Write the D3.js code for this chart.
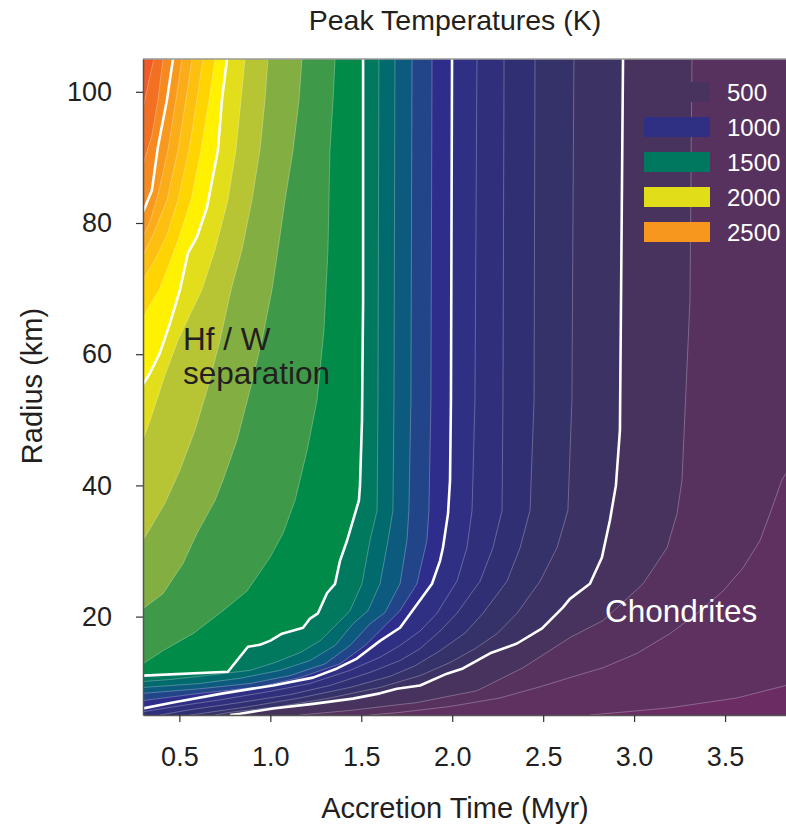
<!DOCTYPE html>
<html>
<head>
<meta charset="utf-8">
<script src="https://cdn.jsdelivr.net/npm/d3@7"></script>
<style>
  body { margin: 0; background: #fff; }
  text { font-family: "Liberation Sans", Arial, Helvetica, sans-serif; }
</style>
</head>
<body>
<script>
// Peak temperature contours as [accretion time (Myr), radius (km)]
// each line runs from the top of the plot downwards
var c200 = [[3.9,105],[3.9,10.5],[3.835,9.5],[3.566,7.6],[3.197,6.1],[2.922,5.4],[2.757,5.0]];
var c300 = [[3.9,105],[3.86,43],[3.812,40.8],[3.747,35.7],[3.692,31.6],[3.598,27.4],[3.489,23.9],[3.346,20.5],[3.197,17.4],[3.016,14.4],[2.829,12.2],[2.647,10.7],[2.483,9.3],[2.263,7.6],[1.988,6.3],[1.713,5.4],[1.548,5.0]];
var c400 = [[3.318,105],[3.307,68.2],[3.263,40.8],[3.236,35.7],[3.181,30.5],[3.049,25.0],[2.829,19.4],[2.647,16.8],[2.389,12.2],[2.136,8.7],[1.806,6.9],[1.438,5.7],[1.163,5.0]];
var c500 = [[2.939,105],[2.922,48.4],[2.9,40.0],[2.867,34.7],[2.823,29.0],[2.757,25.0],[2.647,22.7],[2.609,21.4],[2.494,18.2],[2.356,15.9],[2.208,14.4],[2.059,12.1],[1.971,11.3],[1.823,9.5],[1.696,9.0],[1.603,8.3],[1.454,7.5],[1.235,6.7],[1.015,6.0],[0.833,5.2],[0.778,5.0]];
var c600 = [[2.669,105],[2.658,53.0],[2.636,36.2],[2.576,30.5],[2.483,25.4],[2.356,20.5],[2.246,17.4],[2.125,15.1],[1.988,13.0],[1.823,11.0],[1.603,9.2],[1.328,7.6],[1.053,6.3],[0.778,5.4],[0.696,5.0]];
var c700 = [[2.455,105],[2.45,53.0],[2.428,36.2],[2.373,30.5],[2.301,25.4],[2.169,20.5],[2.07,17.5],[1.933,14.8],[1.795,12.5],[1.658,10.9],[1.438,9.2],[1.163,7.6],[0.888,6.3],[0.613,5.2],[0.558,5.0]];
var c800 = [[2.285,105],[2.279,53.0],[2.274,36.2],[2.224,30.5],[2.153,25.4],[2.026,20.5],[1.933,17.8],[1.823,15.1],[1.713,13.3],[1.548,11.5],[1.328,9.5],[1.108,8.1],[0.833,6.9],[0.558,5.8],[0.393,5.0]];
var c900 = [[2.136,105],[2.125,53.0],[2.109,36.2],[2.081,30.5],[2.026,25.4],[1.916,20.5],[1.823,17.8],[1.713,15.6],[1.603,13.8],[1.438,11.8],[1.218,9.8],[0.998,8.6],[0.723,7.3],[0.503,6.4],[0.3,5.5]];
var c1000 = [[1.999,105],[1.993,53.0],[1.988,40.8],[1.977,35.7],[1.949,30.5],[1.933,28.5],[1.889,25.0],[1.713,18.3],[1.603,16.3],[1.476,13.6],[1.367,12.1],[1.235,10.7],[1.015,9.5],[0.74,8.3],[0.465,6.9],[0.3,6.0]];
var c1100 = [[1.889,105],[1.883,53.0],[1.872,36.2],[1.861,31.6],[1.806,25.0],[1.713,20.9],[1.641,18.9],[1.521,15.6],[1.383,12.8],[1.163,10.7],[0.943,9.3],[0.613,8.3],[0.3,7.2]];
var c1200 = [[1.779,105],[1.773,53.0],[1.762,36.2],[1.751,31.6],[1.713,25.0],[1.63,20.6],[1.548,18.9],[1.438,15.6],[1.301,12.8],[1.108,11.0],[0.888,9.8],[0.613,9.0],[0.3,8.3]];
var c1300 = [[1.685,105],[1.68,53.0],[1.674,36.2],[1.647,31.6],[1.603,25.0],[1.537,20.9],[1.454,18.9],[1.356,15.6],[1.218,13.3],[1.053,11.8],[0.833,10.6],[0.613,9.8],[0.3,9.2]];
var c1400 = [[1.597,105],[1.592,53.0],[1.587,36.2],[1.548,31.6],[1.504,25.0],[1.438,20.9],[1.367,18.9],[1.273,16.3],[1.163,14.5],[1.026,13.0],[0.888,11.8],[0.613,10.9],[0.448,10.4],[0.3,10.1]];
var c1500 = [[1.51,105],[1.51,68.2],[1.504,49.9],[1.493,40.0],[1.487,37.7],[1.422,31.6],[1.383,28.5],[1.356,25.0],[1.312,23.6],[1.262,20.5],[1.218,19.7],[1.18,18.3],[1.064,17.4],[0.998,16.3],[0.943,15.7],[0.877,15.4],[0.767,11.6],[0.3,11.0]];
var c1600 = [[1.356,105],[1.345,98.8],[1.328,91.1],[1.317,75.9],[1.295,63.7],[1.257,53.0],[1.202,45.3],[1.136,37.7],[1.07,32.7],[0.998,29.0],[0.872,23.9],[0.74,20.9],[0.575,17.4],[0.41,14.8],[0.3,12.8]];
var c1700 = [[1.174,105],[1.158,98.8],[1.125,91.1],[1.081,83.5],[1.042,75.9],[1.009,69.8],[0.954,62.1],[0.888,54.5],[0.817,46.9],[0.74,40.8],[0.696,37.7],[0.597,32.7],[0.52,28.1],[0.41,23.5],[0.3,21.2]];
var c1800 = [[0.987,105],[0.971,98.8],[0.943,91.1],[0.899,83.5],[0.844,75.9],[0.784,69.8],[0.723,62.1],[0.652,54.5],[0.586,48.4],[0.503,42.3],[0.421,37.3],[0.366,34.7],[0.3,31.6]];
var c1900 = [[0.861,105],[0.839,98.8],[0.811,91.1],[0.767,83.5],[0.696,75.9],[0.624,69.8],[0.558,66.0],[0.492,62.1],[0.421,56.8],[0.349,50.7],[0.3,46.9]];
var c2000 = [[0.762,105],[0.734,98.8],[0.712,91.1],[0.652,82.4],[0.597,77.9],[0.547,75.4],[0.503,69.8],[0.448,64.7],[0.393,60.2],[0.338,57.1],[0.3,55.4]];
var c2100 = [[0.696,105],[0.663,98.8],[0.619,91.1],[0.564,83.5],[0.503,78.2],[0.448,74.0],[0.388,69.8],[0.338,67.5],[0.3,65.6]];
var c2200 = [[0.63,105],[0.597,98.8],[0.553,91.1],[0.492,83.5],[0.432,78.2],[0.366,74.4],[0.3,71.3]];
var c2300 = [[0.569,105],[0.536,98.8],[0.492,91.1],[0.432,83.5],[0.355,78.2],[0.3,75.1]];
var c2400 = [[0.514,105],[0.481,98.8],[0.437,91.1],[0.382,84.3],[0.338,80.2],[0.3,77.9]];
var c2500 = [[0.465,105],[0.432,98.8],[0.382,91.6],[0.349,85.0],[0.311,82.4],[0.3,81.7]];
var c2600 = [[0.41,105],[0.382,98.8],[0.349,93.4],[0.3,88.9]];
var c2700 = [[0.36,105],[0.333,101.8],[0.305,98.0],[0.3,97.5]];

var levels = [200,300,400,500,600,700,800,900,1000,1100,1200,1300,1400,1500,1600,1700,1800,1900,2000,2100,2200,2300,2400,2500,2600,2700];
var contourLines = [c200,c300,c400,c500,c600,c700,c800,c900,c1000,c1100,c1200,c1300,c1400,c1500,c1600,c1700,c1800,c1900,c2000,c2100,c2200,c2300,c2400,c2500,c2600,c2700];
// colour of the band just above each level
var bandColors = ["#5f3161","#58325f","#47335e","#3d3264","#35326a","#312f73","#2f2f7c","#2f2f84","#2e2d8b","#22458a","#0c5a7e","#006a6d","#00795f","#008b48","#3e9a48","#82ae42","#b7c434","#e2de1b","#fff100","#ffd400","#fec010","#fbac19","#f8981d","#f6891f","#f36f22","#f15a25"];
var baseColor = "#6a2c62";
var whiteLevels = [500,1000,1500,2000,2500];

var legendLevels = [500,1000,1500,2000,2500];
var legendColors = ["#47335e","#2f3084","#00775f","#e1dd18","#f7971d"];

var xTicks = [0.5,1.0,1.5,2.0,2.5,3.0,3.5];
var yTicks = [20,40,60,80,100];

var width = 786, height = 828;
var svg = d3.select("body").append("svg")
  .attr("width", width)
  .attr("height", height);

var x = d3.scaleLinear().domain([0.3, 3.835]).range([143, 786]);
var y = d3.scaleLinear().domain([5, 105]).range([715, 59]);

svg.append("clipPath").attr("id", "plotclip")
  .append("rect")
  .attr("x", 143).attr("y", 59)
  .attr("width", 786 - 143).attr("height", 715 - 59);

var plot = svg.append("g").attr("clip-path", "url(#plotclip)");

// lowest band fills the whole plot, every higher band is painted on top
plot.append("rect")
  .attr("x", 143).attr("y", 59)
  .attr("width", 786 - 143).attr("height", 715 - 59)
  .attr("fill", baseColor);

var area = d3.area()
  .x0(x(0.3) - 2)
  .x1(function(d) { return x(d[0]); })
  .y(function(d) { return y(d[1]); });

levels.forEach(function(L, i) {
  plot.append("path")
    .datum(contourLines[i])
    .attr("d", area)
    .attr("fill", bandColors[i]);
});

var line = d3.line()
  .x(function(d) { return x(d[0]); })
  .y(function(d) { return y(d[1]); });

// thin contour lines
levels.forEach(function(L, i) {
  if (whiteLevels.indexOf(L) >= 0) return;
  plot.append("path")
    .datum(contourLines[i])
    .attr("d", line)
    .attr("fill", "none")
    .attr("stroke", "#fff")
    .attr("stroke-opacity", 0.3)
    .attr("stroke-width", 0.9);
});

// white contours every 500 K
levels.forEach(function(L, i) {
  if (whiteLevels.indexOf(L) < 0) return;
  plot.append("path")
    .datum(contourLines[i])
    .attr("d", line)
    .attr("fill", "none")
    .attr("stroke", "#fff")
    .attr("stroke-width", 2.6)
    .attr("stroke-linejoin", "round");
});

// top frame line
svg.append("line")
  .attr("x1", 143).attr("x2", 786)
  .attr("y1", 59).attr("y2", 59)
  .attr("stroke", "#9a9a9a").attr("stroke-width", 1.5);

// axes
var xAxis = d3.axisBottom(x).tickValues(xTicks).tickFormat(d3.format(".1f"))
  .tickSize(7).tickSizeOuter(0).tickPadding(25);
var yAxis = d3.axisLeft(y).tickValues(yTicks)
  .tickSize(7).tickSizeOuter(0).tickPadding(24);

var gx = svg.append("g").attr("transform", "translate(0,715)").call(xAxis);
var gy = svg.append("g").attr("transform", "translate(143,0)").call(yAxis);

[gx, gy].forEach(function(g) {
  g.select(".domain").attr("stroke", "#555").attr("stroke-width", 1.5);
  g.selectAll(".tick line").attr("stroke", "#333").attr("stroke-width", 1.2);
  g.selectAll(".tick text")
    .attr("fill", "#231f20")
    .style("font-family", '"Liberation Sans", Arial, sans-serif')
    .style("font-size", "27px");
});

// titles
svg.append("text")
  .attr("x", 455).attr("y", 30)
  .attr("text-anchor", "middle")
  .attr("fill", "#231f20")
  .style("font-size", "28.5px")
  .text("Peak Temperatures (K)");

svg.append("text")
  .attr("x", 455).attr("y", 818)
  .attr("text-anchor", "middle")
  .attr("fill", "#231f20")
  .style("font-size", "29px")
  .text("Accretion Time (Myr)");

svg.append("text")
  .attr("transform", "translate(42,386) rotate(-90)")
  .attr("text-anchor", "middle")
  .attr("fill", "#231f20")
  .style("font-size", "29px")
  .text("Radius (km)");

// annotations
svg.append("text")
  .attr("x", x(0.52)).attr("y", 350)
  .attr("fill", "#231f20")
  .style("font-size", "31.5px")
  .text("Hf / W");
svg.append("text")
  .attr("x", x(0.52)).attr("y", 384)
  .attr("fill", "#231f20")
  .style("font-size", "31.5px")
  .text("separation");

svg.append("text")
  .attr("x", x(2.84)).attr("y", 622)
  .attr("fill", "#fff")
  .style("font-size", "31.5px")
  .text("Chondrites");

// legend
var legend = svg.append("g");
legendLevels.forEach(function(v, i) {
  legend.append("rect")
    .attr("x", 644).attr("y", 82 + i * 35)
    .attr("width", 66).attr("height", 20)
    .attr("fill", legendColors[i]);
  legend.append("text")
    .attr("x", 727).attr("y", 101 + i * 35)
    .attr("fill", "#fff")
    .style("font-size", "24px")
    .text(v);
});
</script>
</body>
</html>
